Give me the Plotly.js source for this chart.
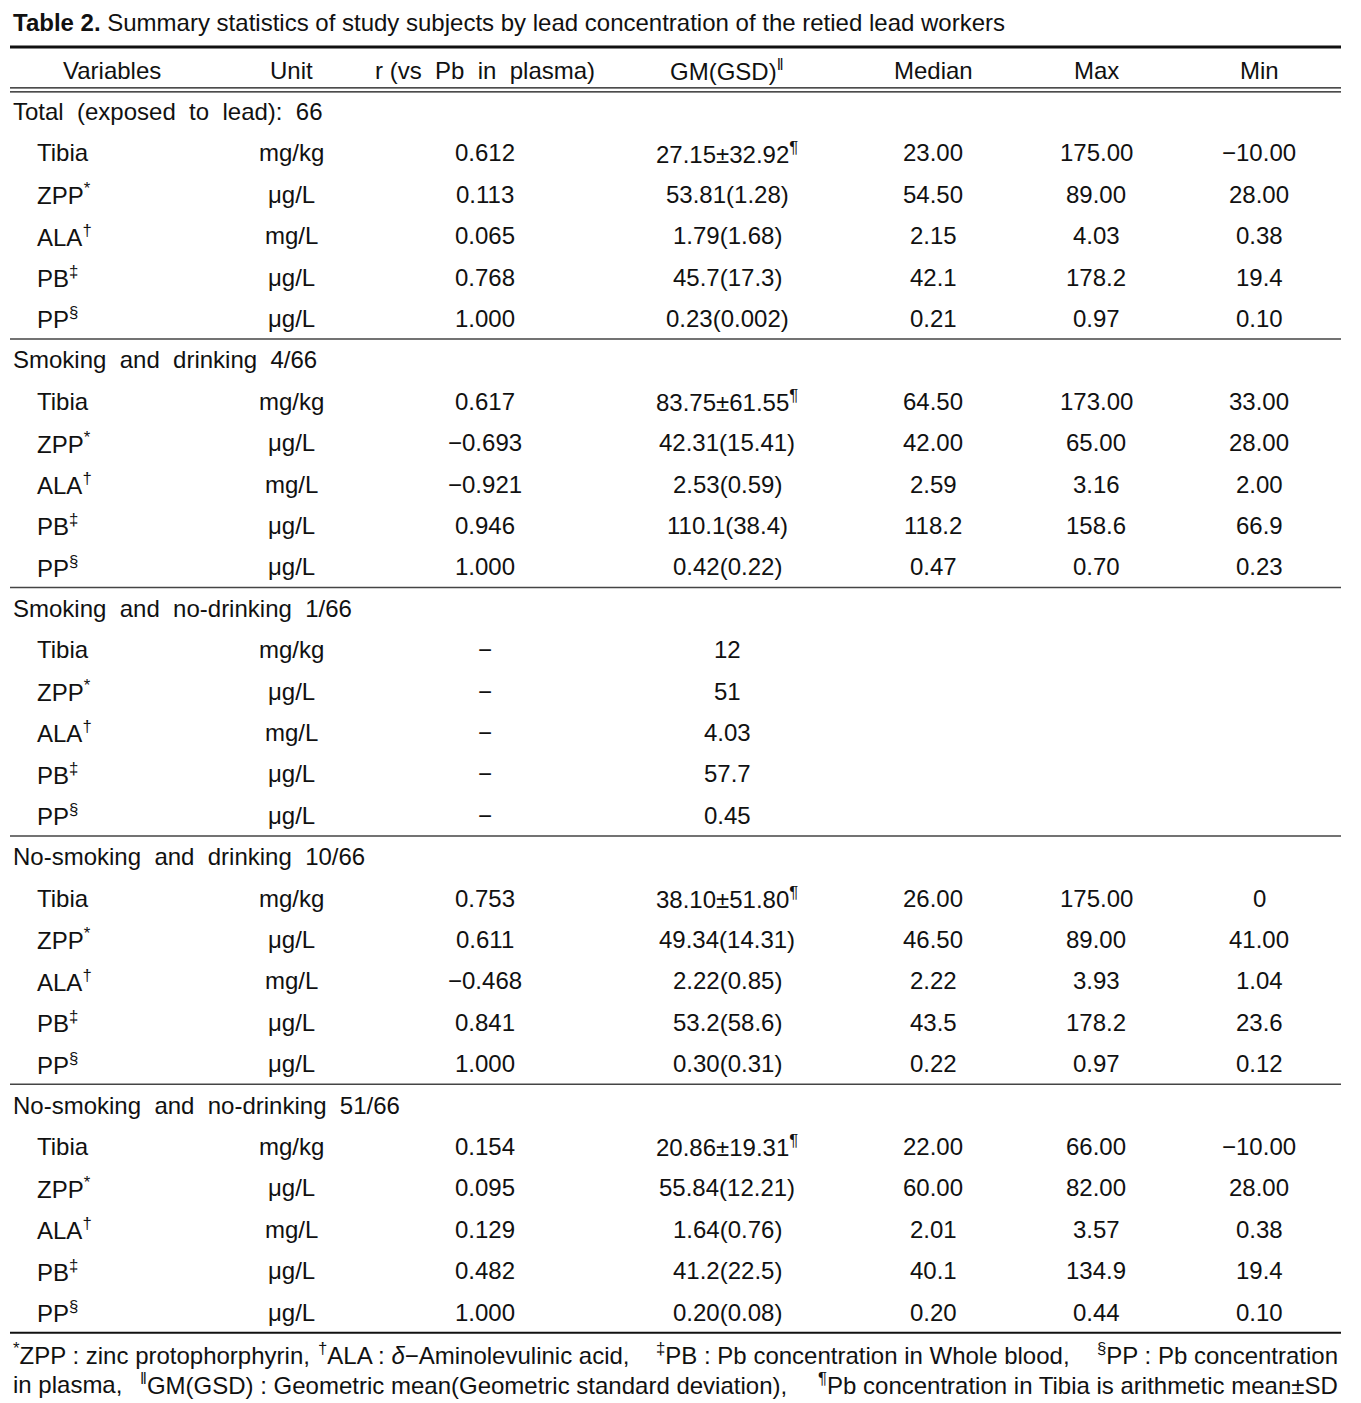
<!DOCTYPE html>
<html>
<head>
<meta charset="utf-8">
<script src="https://cdn.plot.ly/plotly-3.0.1.min.js"></script>
<style>html,body{margin:0;padding:0;background:#fff;}#chart{width:1361px;height:1403px;}</style>
</head>
<body>
<div id="chart"></div>
<script>
// ---- DATA ----
const titleBold = "Table 2.";
const titleText = " Summary statistics of study subjects by lead concentration of the retied lead workers";
const headers = ["Variables", "Unit", "r (vs  Pb  in  plasma)", "GM(GSD)<sup>‖</sup>", "Median", "Max", "Min"];
const groups = [
  "Total  (exposed  to  lead):  66",
  "Smoking  and  drinking  4/66",
  "Smoking  and  no-drinking  1/66",
  "No-smoking  and  drinking  10/66",
  "No-smoking  and  no-drinking  51/66"
];
const variables = ["Tibia", "ZPP<sup>*</sup>", "ALA<sup>†</sup>", "PB<sup>‡</sup>", "PP<sup>§</sup>"];
const units = ["mg/kg", "μg/L", "mg/L", "μg/L", "μg/L"];
const rValues = [
  ["0.612", "0.113", "0.065", "0.768", "1.000"],
  ["0.617", "−0.693", "−0.921", "0.946", "1.000"],
  ["−", "−", "−", "−", "−"],
  ["0.753", "0.611", "−0.468", "0.841", "1.000"],
  ["0.154", "0.095", "0.129", "0.482", "1.000"]
];
const gmValues = [
  ["27.15±32.92<sup>¶</sup>", "53.81(1.28)", "1.79(1.68)", "45.7(17.3)", "0.23(0.002)"],
  ["83.75±61.55<sup>¶</sup>", "42.31(15.41)", "2.53(0.59)", "110.1(38.4)", "0.42(0.22)"],
  ["12", "51", "4.03", "57.7", "0.45"],
  ["38.10±51.80<sup>¶</sup>", "49.34(14.31)", "2.22(0.85)", "53.2(58.6)", "0.30(0.31)"],
  ["20.86±19.31<sup>¶</sup>", "55.84(12.21)", "1.64(0.76)", "41.2(22.5)", "0.20(0.08)"]
];
const medianValues = [
  ["23.00", "54.50", "2.15", "42.1", "0.21"],
  ["64.50", "42.00", "2.59", "118.2", "0.47"],
  ["", "", "", "", ""],
  ["26.00", "46.50", "2.22", "43.5", "0.22"],
  ["22.00", "60.00", "2.01", "40.1", "0.20"]
];
const maxValues = [
  ["175.00", "89.00", "4.03", "178.2", "0.97"],
  ["173.00", "65.00", "3.16", "158.6", "0.70"],
  ["", "", "", "", ""],
  ["175.00", "89.00", "3.93", "178.2", "0.97"],
  ["66.00", "82.00", "3.57", "134.9", "0.44"]
];
const minValues = [
  ["−10.00", "28.00", "0.38", "19.4", "0.10"],
  ["33.00", "28.00", "2.00", "66.9", "0.23"],
  ["", "", "", "", ""],
  ["0", "41.00", "1.04", "23.6", "0.12"],
  ["−10.00", "28.00", "0.38", "19.4", "0.10"]
];
const footnoteLine1 = [
  "<sup>*</sup>ZPP : zinc protophorphyrin,",
  "<sup>†</sup>ALA : <i>δ</i>−Aminolevulinic acid,",
  "<sup>‡</sup>PB : Pb concentration in Whole blood,",
  "<sup>§</sup>PP : Pb concentration"
];
const footnoteLine2 = [
  "in plasma,",
  "<sup>‖</sup>GM(GSD) : Geometric mean(Geometric standard deviation),",
  "<sup>¶</sup>Pb concentration in Tibia is arithmetic mean±SD"
];

// ---- LAYOUT HELPERS ----
const FONT = "'Liberation Sans', Arial, sans-serif";
const FS = 24;
const W = 1361, H = 1403;
const P = 41.4, Y0 = 70;           // row pitch and header row center (px)
const colX = [112, 291, 485, 727, 933, 1096, 1259];
const leftGroup = 11, leftVar = 35;
const tableL = 10, tableR = 1341;

const ann = [];
function add(x, y, text, align, extra) {
  if (text === "" || text == null) return;
  ann.push(Object.assign({
    x: x, y: y, xref: 'x', yref: 'y', text: text, showarrow: false,
    xanchor: align, yanchor: 'middle',
    font: {family: FONT, size: FS, color: '#111'}
  }, extra || {}));
}

// header
headers.forEach((h, i) => add(colX[i], 0, h, 'center'));

const shapes = [];
function hline(y, w, col) {
  shapes.push({type: 'line', xref: 'x', yref: 'y', x0: tableL, x1: tableR, y0: y, y1: y,
    line: {color: col || '#111', width: w}});
}
hline(-0.555, 3);
hline(0.43, 1.2);
hline(0.53, 1.2);

let row = 1;
groups.forEach((g, gi) => {
  add(leftGroup, row, g, 'left');
  row++;
  variables.forEach((v, vi) => {
    add(leftVar, row, v, 'left');
    add(colX[1], row, units[vi], 'center');
    add(colX[2], row, rValues[gi][vi], 'center');
    add(colX[3], row, gmValues[gi][vi], 'center');
    add(colX[4], row, medianValues[gi][vi], 'center');
    add(colX[5], row, maxValues[gi][vi], 'center');
    add(colX[6], row, minValues[gi][vi], 'center');
    row++;
  });
  hline(row - 0.5, gi === groups.length - 1 ? 2 : 1.5, gi === groups.length - 1 ? '#111' : '#444');
});

// title
add(leftGroup, (22 - Y0) / P, '<b>' + titleBold + '</b>' + titleText, 'left');

// footnotes (justified by placing segments)
const fn1X = [11, 316, 654, 1340];
const fn1A = ['left', 'left', 'left', 'right'];
footnoteLine1.forEach((t, i) => add(fn1X[i], (1354 - Y0) / P, t, fn1A[i]));
const fn2X = [11, 138, 1340];
const fn2A = ['left', 'left', 'right'];
footnoteLine2.forEach((t, i) => add(fn2X[i], (1384 - Y0) / P, t, fn2A[i]));

const layout = {
  width: W, height: H,
  margin: {l: 0, r: 0, t: 0, b: 0},
  paper_bgcolor: '#fff', plot_bgcolor: '#fff',
  showlegend: false,
  xaxis: {range: [0, W], visible: false, fixedrange: true},
  yaxis: {range: [(H - Y0) / P, -Y0 / P], visible: false, fixedrange: true},
  annotations: ann,
  shapes: shapes
};
Plotly.newPlot('chart', [{x: [], y: [], type: 'scatter'}], layout, {staticPlot: true, displayModeBar: false});
</script>
</body>
</html>
